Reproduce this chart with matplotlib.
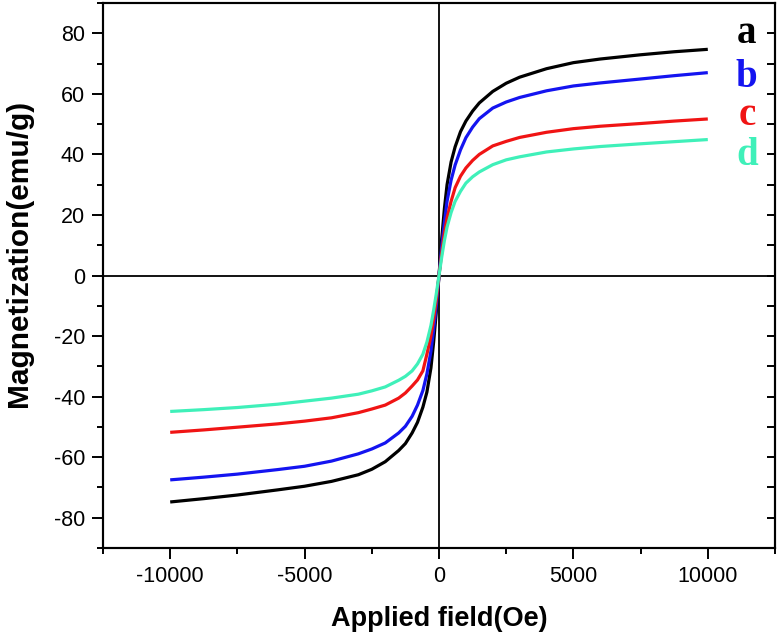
import matplotlib
matplotlib.use("Agg")
import matplotlib.pyplot as plt
from matplotlib.ticker import MultipleLocator

field = [-10000, -8750, -7500, -6000, -5000, -4000, -3000, -2500, -2000, -1500, -1250,
         -1000, -800, -600, -450, -300, -200, -100, 0,
         100, 200, 300, 450, 600, 800, 1000, 1250, 1500, 2000, 2500, 3000, 4000,
         5000, 6000, 7500, 8750, 10000]

mag_a = [-74.8, -73.7, -72.5, -70.8, -69.6, -68.0, -65.8, -64.0, -61.5, -57.8, -55.5,
         -52.0, -48.5, -43.5, -38.5, -30.5, -22.0, -12.0, 0.0,
         12.0, 22.0, 30.0, 37.5, 42.5, 47.5, 51.0, 54.3, 57.0, 60.8, 63.5, 65.5, 68.3,
         70.3, 71.5, 72.9, 73.9, 74.7]

mag_b = [-67.5, -66.6, -65.6, -64.1, -63.0, -61.3, -58.9, -57.3, -55.3, -52.0, -49.8,
         -46.5, -42.8, -38.0, -32.5, -25.0, -18.0, -10.0, 0.0,
         9.5, 17.5, 24.5, 31.5, 36.5, 41.5, 45.5, 49.0, 51.8, 55.3, 57.3, 58.8, 61.0,
         62.6, 63.6, 64.9, 66.0, 67.0]

mag_c = [-51.8, -51.0, -50.1, -49.0, -48.1, -47.0, -45.3, -44.1, -42.8, -40.5, -38.8,
         -36.5, -34.5, -31.5, -26.0, -20.0, -14.5, -8.0, 0.0,
         7.5, 14.0, 19.0, 24.5, 29.0, 32.8, 35.5, 38.0, 40.0, 42.8, 44.3, 45.6, 47.3,
         48.5, 49.3, 50.2, 51.0, 51.7]

mag_d = [-44.9, -44.3, -43.6, -42.5, -41.5, -40.5, -39.2, -38.1, -36.8, -34.6, -33.3,
         -31.5, -29.2, -26.0, -22.0, -16.5, -11.5, -6.0, 0.0,
         6.0, 11.5, 16.0, 20.8, 24.5, 27.8, 30.5, 32.6, 34.2, 36.6, 38.2, 39.2, 40.8,
         41.8, 42.6, 43.5, 44.2, 44.9]

series_labels = ["a", "b", "c", "d"]
series_colors = ["#000000", "#1414f0", "#f01414", "#3ff0b9"]
label_y = [76.7, 62.4, 49.8, 36.6]

x_ticks = [-10000, -5000, 0, 5000, 10000]
y_ticks = [-80, -60, -40, -20, 0, 20, 40, 60, 80]

sans = ["Liberation Sans", "DejaVu Sans"]
plt.rcParams["font.family"] = sans

fig = plt.figure(figsize=(7.79, 6.36), dpi=100)
ax = fig.add_axes([103 / 779, 1 - 548 / 636, (775 - 103) / 779, (548 - 3) / 636])

for ys, col in zip([mag_a, mag_b, mag_c, mag_d], series_colors):
    ax.plot(field, ys, color=col, lw=2.3, solid_capstyle="butt", zorder=3)

ax.axhline(0, color="black", lw=1.3, zorder=2)
ax.axvline(0, color="black", lw=1.3, zorder=2)

for lab, col, yy in zip(series_labels, series_colors, label_y):
    ax.text(11450, yy, lab, color=col, fontsize=28, fontweight="bold",
            family=["Liberation Serif", "DejaVu Serif"], ha="center", va="baseline")

ax.set_xlim(-12500, 12500)
ax.set_ylim(-90, 90)
ax.set_xticks(x_ticks)
ax.set_yticks(y_ticks)
ax.set_xticklabels([str(v) for v in x_ticks])
ax.set_yticklabels([str(v) for v in y_ticks])
ax.xaxis.set_minor_locator(MultipleLocator(2500))
ax.yaxis.set_minor_locator(MultipleLocator(10))
ax.tick_params(which="major", direction="out", length=8, width=1.4,
               labelsize=15.5, pad=5, top=False, right=False)
ax.tick_params(which="minor", direction="out", length=4, width=1.4,
               top=False, right=False)
for sp in ax.spines.values():
    sp.set_linewidth(1.5)

ax2 = ax.twinx()
ax2.set_ylim(-90, 90)
ax2.yaxis.set_major_locator(MultipleLocator(10))
ax2.tick_params(axis="y", direction="in", length=6, width=1.4, labelright=False)
for sp in ax2.spines.values():
    sp.set_linewidth(1.5)

ax.set_xlabel("Applied field(Oe)", fontsize=19.5, fontweight="bold", labelpad=14)
ax.set_ylabel("Magnetization(emu/g)", fontsize=21.5, fontweight="bold")
ax.yaxis.set_label_coords(-0.104, 0.541)

fig.savefig("out.png", dpi=100)
